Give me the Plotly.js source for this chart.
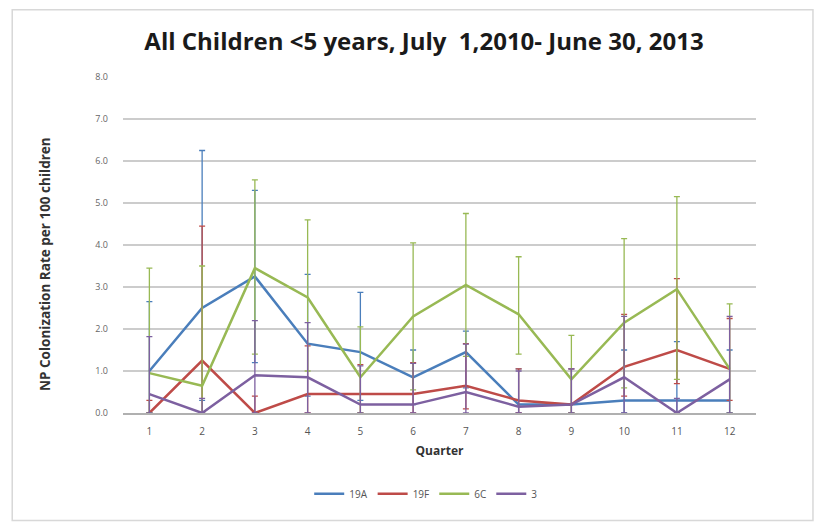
<!DOCTYPE html>
<html>
<head>
<meta charset="utf-8">
<script src="https://cdn.plot.ly/plotly-3.0.1.min.js"></script>
<style>
  html, body { margin: 0; padding: 0; background: #fff; }
  #chart { width: 831px; height: 522px; }
</style>
</head>
<body>
<div id="chart"></div>
<script>
// Quarters since July 1, 2010
const quarters = [1, 2, 3, 4, 5, 6, 7, 8, 9, 10, 11, 12];

// Colonization rate per 100 children, with 95% bounds
const s19A    = [1.0, 2.5, 3.25, 1.65, 1.45, 0.85, 1.45, 0.2, 0.2, 0.3, 0.3, 0.3];
const s19A_hi = [2.65, 6.25, 5.3, 3.3, 2.87, 1.5, 1.95, 1.05, 1.05, 1.5, 1.7, 1.5];
const s19A_lo = [0.0, 0.3, 1.2, 0.4, 0.3, 0.2, 0.6, 0.0, 0.0, 0.0, 0.0, 0.0];

const s19F    = [0.0, 1.25, 0.0, 0.45, 0.45, 0.45, 0.65, 0.3, 0.2, 1.1, 1.5, 1.05];
const s19F_hi = [0.3, 4.45, 0.4, 1.6, 1.15, 1.2, 1.65, 1.05, 1.05, 2.35, 3.2, 2.25];
const s19F_lo = [0.0, 0.0, 0.0, 0.0, 0.0, 0.0, 0.1, 0.0, 0.0, 0.4, 0.7, 0.3];

const s6C     = [0.95, 0.65, 3.45, 2.75, 0.85, 2.3, 3.05, 2.35, 0.8, 2.15, 2.95, 1.05];
const s6C_hi  = [3.45, 3.5, 5.55, 4.6, 2.05, 4.05, 4.75, 3.72, 1.85, 4.15, 5.15, 2.6];
const s6C_lo  = [0.0, 0.0, 1.4, 1.0, 0.0, 0.55, 1.35, 1.4, 0.0, 0.6, 0.8, 0.0];

const s3      = [0.45, 0.0, 0.9, 0.85, 0.2, 0.2, 0.5, 0.15, 0.2, 0.85, 0.0, 0.8];
const s3_hi   = [1.82, 0.35, 2.2, 2.15, 1.12, 1.18, 1.64, 1.0, 1.05, 2.3, 0.35, 2.3];
const s3_lo   = [0.0, 0.0, 0.0, 0.0, 0.0, 0.0, 0.0, 0.0, 0.0, 0.0, 0.0, 0.0];

const yTicks = [0, 1, 2, 3, 4, 5, 6, 7, 8];

function series(name, vals, hi, lo, color) {
  return {
    type: 'scatter',
    mode: 'lines',
    name: name,
    x: quarters,
    y: vals,
    line: { color: color, width: 2.5 },
    error_y: {
      type: 'data',
      symmetric: false,
      array: hi.map((h, i) => Math.max(0, h - vals[i])),
      arrayminus: lo.map((l, i) => Math.max(0, vals[i] - l)),
      color: color,
      thickness: 1.3,
      width: 3
    }
  };
}

const data = [
  series('19A', s19A, s19A_hi, s19A_lo, '#4a7ebb'),
  series('19F', s19F, s19F_hi, s19F_lo, '#be4b48'),
  series('6C',  s6C,  s6C_hi,  s6C_lo,  '#98b954'),
  series('3',   s3,   s3_hi,   s3_lo,   '#7d60a0')
];

const layout = {
  width: 831,
  height: 522,
  paper_bgcolor: '#ffffff',
  plot_bgcolor: '#ffffff',
  margin: { l: 123, r: 75, t: 77, b: 109 },
  font: { family: 'Open Sans, Liberation Sans, sans-serif', color: '#555' },
  title: {
    text: '<b>All Children &lt;5 years, July  1,2010- June 30, 2013</b>',
    font: { family: 'Open Sans, Liberation Sans, sans-serif', size: 24, color: '#1a1a1a' },
    x: 0.4755, xref: 'paper', xanchor: 'center',
    y: 0.92, yref: 'container', yanchor: 'middle'
  },
  xaxis: {
    range: [0.5, 12.5],
    tickvals: quarters,
    ticktext: quarters.map(String),
    showgrid: false,
    zeroline: false,
    showline: true,
    linecolor: '#b0b0b0',
    linewidth: 1.5,
    ticks: '',
    ticklabelstandoff: 8,
    tickfont: { size: 10, color: '#555' },
    title: {
      text: '<b>Quarter</b>',
      font: { size: 12, color: '#333' },
      standoff: 10
    }
  },
  yaxis: {
    range: [0, 8],
    tickvals: yTicks,
    ticktext: yTicks.map(v => v.toFixed(1)),
    showgrid: true,
    gridcolor: '#cccccc',
    gridwidth: 1.7,
    zeroline: false,
    showline: false,
    ticks: '',
    ticklabelstandoff: 14,
    tickfont: { size: 9, color: '#666' }
  },
  annotations: [{
    text: '<b>NP Colonization Rate per 100 children</b>',
    textangle: -90,
    xref: 'paper', yref: 'paper',
    x: (45 - 123) / 633, y: (413 - 264) / 336,
    xanchor: 'center', yanchor: 'middle',
    showarrow: false,
    font: { size: 13.5, color: '#333' }
  }],
  showlegend: true,
  legend: {
    orientation: 'h',
    x: 0.479, xref: 'paper', xanchor: 'center',
    y: 0.054, yref: 'container', yanchor: 'middle',
    font: { size: 10, color: '#555' },
    itemwidth: 30,
    tracegroupgap: 0
  },
  shapes: [{
    type: 'rect', xref: 'paper', yref: 'paper',
    x0: -0.175, x1: 1.09, y0: -0.32, y1: 1.2,
    line: { color: '#d8d8d8', width: 1.5 },
    fillcolor: 'rgba(0,0,0,0)'
  }]
};

Plotly.newPlot('chart', data, layout, { displayModeBar: false, staticPlot: true });
</script>
</body>
</html>
